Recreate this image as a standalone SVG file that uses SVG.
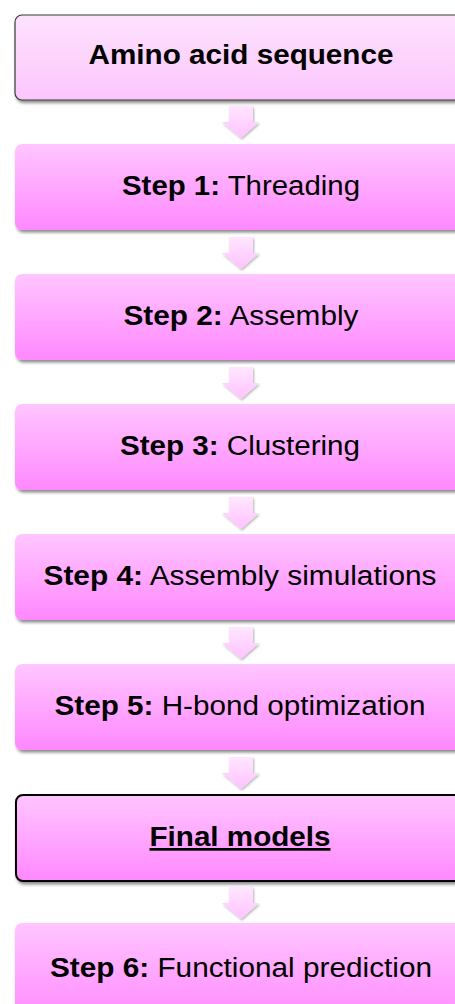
<svg xmlns="http://www.w3.org/2000/svg" width="455" height="1004" viewBox="0 0 455 1004">
<defs>
<linearGradient id="gStep" x1="0" y1="0" x2="0" y2="1">
<stop offset="0" stop-color="#ffc6ff"/>
<stop offset="1" stop-color="#ff88ff"/>
</linearGradient>
<linearGradient id="gTop" x1="0" y1="0" x2="0" y2="1">
<stop offset="0" stop-color="#fde2fd"/>
<stop offset="1" stop-color="#fcc6fc"/>
</linearGradient>
<linearGradient id="gArr" x1="0" y1="0" x2="0" y2="1">
<stop offset="0" stop-color="#ffe6ff"/>
<stop offset="1" stop-color="#ffc2ff"/>
</linearGradient>
<filter id="sh" x="-5%" y="-10%" width="115%" height="130%">
<feDropShadow dx="1.5" dy="2.5" stdDeviation="1.5" flood-color="#000" flood-opacity="0.45"/>
</filter>
<filter id="shA" x="-30%" y="-30%" width="160%" height="160%">
<feDropShadow dx="1" dy="1.5" stdDeviation="1" flood-color="#000" flood-opacity="0.3"/>
</filter>
<path id="arrow" d="M229,0 H253 V16 H259 L241,32 L222,16 H229 Z"/>
</defs>
<style>
.box{fill:url(#gStep);filter:url(#sh);}
.top{fill:url(#gTop);stroke:#3a3a3a;stroke-width:1.2;filter:url(#sh);}
.fin{fill:url(#gStep);stroke:#000;stroke-width:2;filter:url(#sh);}
.arr{fill:url(#gArr);filter:url(#shA);}
text{font-family:"Liberation Sans",Arial,sans-serif;font-size:27px;fill:#000;text-anchor:middle;}
.b{font-weight:bold;}
</style>
<rect width="455" height="1004" fill="#fff"/>
<g id="connectors">
<use href="#arrow" class="arr" y="106"/>
<use href="#arrow" class="arr" y="237"/>
<use href="#arrow" class="arr" y="367"/>
<use href="#arrow" class="arr" y="497"/>
<use href="#arrow" class="arr" y="627"/>
<use href="#arrow" class="arr" y="757"/>
<use href="#arrow" class="arr" y="887"/>
</g>
<g id="n0"><rect class="top" x="15" y="15" width="470" height="85" rx="7"/><text class="b" x="241" y="64" textLength="305" lengthAdjust="spacingAndGlyphs">Amino acid sequence</text></g>
<g id="n1"><rect class="box" x="15" y="144" width="470" height="86" rx="7"/><text x="241" y="195" textLength="238" lengthAdjust="spacingAndGlyphs"><tspan class="b">Step 1:</tspan> Threading</text></g>
<g id="n2"><rect class="box" x="15" y="274" width="470" height="86" rx="7"/><text x="241" y="325" textLength="235" lengthAdjust="spacingAndGlyphs"><tspan class="b">Step 2:</tspan> Assembly</text></g>
<g id="n3"><rect class="box" x="15" y="404" width="470" height="86" rx="7"/><text x="240" y="455" textLength="240" lengthAdjust="spacingAndGlyphs"><tspan class="b">Step 3:</tspan> Clustering</text></g>
<g id="n4"><rect class="box" x="15" y="534" width="470" height="86" rx="7"/><text x="240" y="585" textLength="393" lengthAdjust="spacingAndGlyphs"><tspan class="b">Step 4:</tspan> Assembly simulations</text></g>
<g id="n5"><rect class="box" x="15" y="664" width="470" height="86" rx="7"/><text x="240" y="715" textLength="371" lengthAdjust="spacingAndGlyphs"><tspan class="b">Step 5:</tspan> H-bond optimization</text></g>
<g id="n6"><rect class="fin" x="16" y="795" width="470" height="86" rx="7"/><text class="b" x="240" y="846" textLength="181" lengthAdjust="spacingAndGlyphs" text-decoration="underline">Final models</text></g>
<g id="n7"><rect class="box" x="15" y="923" width="470" height="100" rx="7"/><text x="241" y="977" textLength="382" lengthAdjust="spacingAndGlyphs"><tspan class="b">Step 6:</tspan> Functional prediction</text></g>
</svg>
